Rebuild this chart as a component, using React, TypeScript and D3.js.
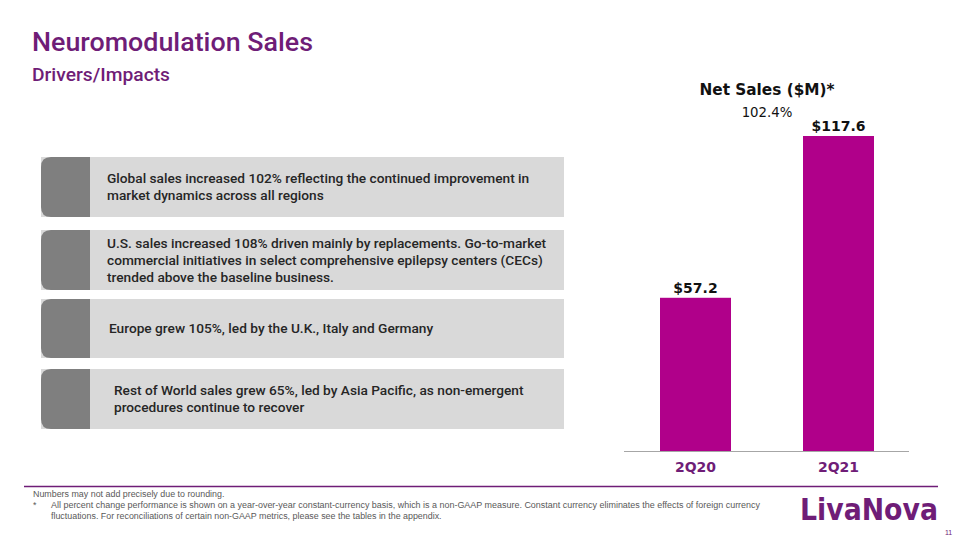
import React from "react";
import * as d3 from "d3";

const categories = ["2Q20", "2Q21"];
const netSales = [57.2, 117.6];
const valueLabels = ["$57.2", "$117.6"];
const growthLabel = "102.4%";
const chartTitle = "Net Sales ($M)*";

const drivers = [
  ["Global sales increased 102% reflecting the continued improvement in", "market dynamics across all regions"],
  ["U.S. sales increased 108% driven mainly by replacements. Go-to-market", "commercial initiatives in select comprehensive epilepsy centers (CECs)", "trended above the baseline business."],
  ["Europe grew 105%, led by the U.K., Italy and Germany"],
  ["Rest of World sales grew 65%, led by Asia Pacific, as non-emergent", "procedures continue to recover"],
];

const PURPLE = "#6f1d77";
const BAR = "#b0008a";

export default function App() {
  const W = 960, H = 540;
  const xc = d3.scalePoint<string>().domain(categories).range([695.5, 838.5]);
  const barW = 71;
  const y = d3.scaleLinear().domain([0, 117.6]).range([451, 136]);

  const boxes = [
    { y0: 157, y1: 217, tx: 107 },
    { y0: 230, y1: 290, tx: 107 },
    { y0: 299, y1: 358, tx: 109 },
    { y0: 369, y1: 429, tx: 114 },
  ];
  const lineH = 17;

  return (
    <svg width={W} height={H} style={{ position: "absolute", left: 0, top: 0, background: "#fff" }}>
      <text x={32} y={51} fontFamily="Roboto, Liberation Sans, Arial, sans-serif" fontWeight={500} fontSize={26} fill={PURPLE} textLength={281} lengthAdjust="spacingAndGlyphs">Neuromodulation Sales</text>
      <text x={32} y={81} fontFamily="Roboto, Liberation Sans, Arial, sans-serif" fontWeight={500} fontSize={17.5} fill={PURPLE} textLength={138} lengthAdjust="spacingAndGlyphs">Drivers/Impacts</text>

      {drivers.map((lines, i) => {
        const b = boxes[i];
        const h = b.y1 - b.y0;
        const mid = (b.y0 + b.y1) / 2;
        const startY = mid - ((lines.length - 1) * lineH) / 2 + 4.5;
        return (
          <g key={i}>
            <rect x={41} y={b.y0} width={523} height={h} fill="#d9d9d9" />
            <path d={`M90,${b.y0} L51,${b.y0} Q41,${b.y0} 41,${b.y0 + 10} L41,${b.y1 - 10} Q41,${b.y1} 51,${b.y1} L90,${b.y1} Z`} fill="#7f7f7f" />
            {lines.map((l, j) => (
              <text key={j} x={b.tx} y={startY + j * lineH} fontFamily="Roboto, Liberation Sans, Arial, sans-serif" fontWeight={500} fontSize={13.7} fill="#262626">{l}</text>
            ))}
          </g>
        );
      })}

      <text x={767} y={95} textAnchor="middle" fontFamily="DejaVu Sans, sans-serif" fontWeight={700} fontSize={15.3} fill="#111">{chartTitle}</text>
      <text x={767} y={117} textAnchor="middle" fontFamily="DejaVu Sans, sans-serif" fontSize={13.3} fill="#111">{growthLabel}</text>

      {categories.map((c, i) => (
        <g key={c}>
          <rect x={xc(c)! - barW / 2} y={y(netSales[i])} width={barW} height={y(0) - y(netSales[i])} fill={BAR} />
          <text x={xc(c)!} y={y(netSales[i]) - 5} textAnchor="middle" fontFamily="DejaVu Sans, sans-serif" fontWeight={700} fontSize={14} fill="#111">{valueLabels[i]}</text>
          <text x={xc(c)!} y={472} textAnchor="middle" fontFamily="DejaVu Sans, sans-serif" fontWeight={700} fontSize={14} fill={PURPLE}>{c}</text>
        </g>
      ))}
      <line x1={624} x2={909} y1={451.5} y2={451.5} stroke="#a6a6a6" strokeWidth={1} />

      <line x1={24} x2={938} y1={486.5} y2={486.5} stroke={PURPLE} strokeWidth={1.5} />
      <g fontFamily="Liberation Sans, Arial, sans-serif" fontSize={8.9} fill="#595959">
        <text x={33} y={497}>Numbers may not add precisely due to rounding.</text>
        <text x={33} y={508}>*</text>
        <text x={51} y={508} textLength={709} lengthAdjust="spacingAndGlyphs">All percent change performance is shown on a year-over-year constant-currency basis, which is a non-GAAP measure. Constant currency eliminates the effects of foreign currency</text>
        <text x={51} y={519}>fluctuations. For reconciliations of certain non-GAAP metrics, please see the tables in the appendix.</text>
      </g>
      <text x={800} y={520} fontFamily="DejaVu Sans, sans-serif" fontWeight={700} fontSize={30} fill={PURPLE} textLength={138} lengthAdjust="spacingAndGlyphs">LivaNova</text>
      <text x={945} y={535} fontFamily="Liberation Sans, Arial, sans-serif" fontSize={7} fill={PURPLE}>11</text>
    </svg>
  );
}
